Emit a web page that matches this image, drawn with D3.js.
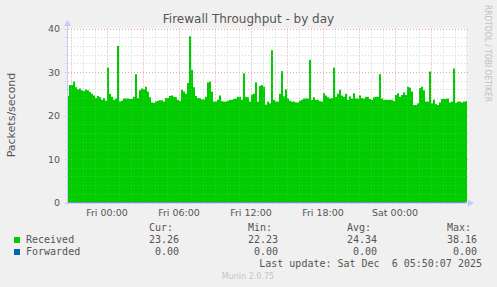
<!DOCTYPE html>
<html>
<head>
<meta charset="utf-8">
<script src="https://cdn.jsdelivr.net/npm/d3@7"></script>
<style>
  body { margin: 0; background: #f0f0f0; }
  svg { display: block; }
  text { font-family: "DejaVu Sans", sans-serif; fill: #555; }
  .mono { font-family: "DejaVu Sans Mono", monospace; white-space: pre; }
</style>
</head>
<body>
<div id="chart"></div>
<script>
// series: one value every 10 minutes, starting Thu 20:40 UTC
var startTime = new Date(Date.UTC(2025, 11, 4, 20, 40));
var stepMinutes = 10;

var received = [
    24.5, 27.0, 27.0, 27.8, 26.5, 26.0, 26.2, 25.8, 25.6, 26.0,
    25.8, 25.4, 25.0, 24.6, 24.0, 24.5, 24.2, 23.6, 24.0, 23.4,
    31.0, 25.0, 24.3, 23.6, 23.9, 36.0, 23.2, 23.4, 23.9, 23.9,
    23.9, 23.8, 23.8, 24.3, 29.5, 24.0, 25.8, 26.2, 26.0, 26.6,
    25.5, 24.2, 23.0, 22.9, 23.2, 23.4, 23.5, 23.5, 23.2, 24.0,
    24.0, 24.5, 24.6, 24.3, 24.2, 23.6, 23.3, 25.9, 25.5, 25.0,
    27.5, 38.2, 30.5, 26.5, 24.5, 24.0, 24.0, 23.7, 23.7, 24.3,
    27.6, 27.8, 25.5, 23.2, 23.2, 23.6, 24.6, 23.3, 23.2, 23.2,
    23.4, 23.6, 23.6, 23.8, 23.9, 24.3, 24.3, 23.6, 29.7, 24.3,
    24.2, 23.2, 24.8, 25.0, 27.6, 23.2, 26.8, 27.0, 26.6, 22.5,
    23.2, 22.8, 35.0, 23.6, 23.2, 23.2, 25.0, 30.2, 24.4, 26.0,
    23.9, 23.4, 23.2, 23.2, 23.0, 23.0, 23.4, 23.6, 23.9, 23.9,
    23.9, 32.8, 23.6, 24.2, 23.6, 23.6, 23.3, 23.2, 25.1, 24.6,
    24.2, 23.9, 24.0, 31.0, 24.3, 25.0, 25.9, 24.6, 24.3, 25.0,
    23.6, 24.4, 23.9, 25.1, 23.9, 23.9, 24.6, 24.0, 23.9, 24.3,
    24.3, 23.8, 23.6, 24.2, 24.3, 24.3, 29.5, 23.9, 23.6, 23.6,
    23.6, 23.6, 23.6, 23.3, 24.7, 25.1, 24.3, 24.7, 25.3, 24.7,
    26.6, 26.4, 25.5, 22.4, 22.4, 22.8, 26.3, 26.6, 25.8, 23.2,
    23.2, 30.1, 22.8, 23.6, 22.6, 22.4, 23.0, 23.8, 23.8, 23.8,
    23.9, 23.0, 23.2, 30.8, 22.9, 23.2, 23.2, 23.0, 23.2, 23.26
];
var forwarded = received.map(function() { return 0; });

var seriesNames = ["Received", "Forwarded"];
var seriesColors = ["#00cc00", "#0066b3"];
var statHeaders = ["Cur:", "Min:", "Avg:", "Max:"];
var receivedStats = ["23.26", "22.23", "24.34", "38.16"];
var forwardedStats = ["0.00", "0.00", "0.00", "0.00"];

var yTicks = [0, 10, 20, 30, 40];

var width = 497, height = 287;
var plotLeft = 67, plotRight = 467, plotTop = 28.5, plotBottom = 202.5;

var svg = d3.select("#chart").append("svg")
    .attr("width", width)
    .attr("height", height);

svg.append("rect")
    .attr("width", width)
    .attr("height", height)
    .attr("fill", "#f0f0f0");

var endTime = d3.utcMinute.offset(startTime, stepMinutes * received.length);

var x = d3.scaleUtc()
    .domain([startTime, endTime])
    .range([plotLeft, plotRight]);

var y = d3.scaleLinear()
    .domain([0, 40])
    .range([plotBottom, plotTop]);

function timeAt(i) { return d3.utcMinute.offset(startTime, stepMinutes * i); }

// plot background
svg.append("rect")
    .attr("x", plotLeft)
    .attr("y", plotTop)
    .attr("width", plotRight - plotLeft - 1)
    .attr("height", plotBottom - plotTop)
    .attr("fill", "#ffffff");

var minorY = d3.range(0, 41, 2).filter(function(d) { return d % 10 != 0; });
var minorX = d3.utcHour.every(1).range(startTime, endTime).filter(function(d) { return d.getUTCHours() % 3 != 0; });
var majorX = d3.utcHour.every(3).range(startTime, endTime);

function drawGrid(g) {
    g.selectAll(".minor-y").data(minorY).enter().append("line")
        .attr("x1", plotLeft - 2).attr("x2", plotRight + 2)
        .attr("y1", function(d) { return Math.round(y(d)) + 0.5; })
        .attr("y2", function(d) { return Math.round(y(d)) + 0.5; })
        .attr("stroke", "#d4d4d4").attr("stroke-dasharray", "1,2");
    g.selectAll(".minor-x").data(minorX).enter().append("line")
        .attr("x1", function(d) { return Math.round(x(d)) + 0.5; })
        .attr("x2", function(d) { return Math.round(x(d)) + 0.5; })
        .attr("y1", plotTop).attr("y2", plotBottom + 2)
        .attr("stroke", "#d4d4d4").attr("stroke-dasharray", "1,2");
    g.selectAll(".major-y").data(yTicks).enter().append("line")
        .attr("x1", plotLeft - 2).attr("x2", plotRight + 2)
        .attr("y1", function(d) { return Math.round(y(d)) + 0.5; })
        .attr("y2", function(d) { return Math.round(y(d)) + 0.5; })
        .attr("stroke", "#e8a8a8").attr("stroke-dasharray", "1,2");
    g.selectAll(".major-x").data(majorX).enter().append("line")
        .attr("x1", function(d) { return Math.round(x(d)) + 0.5; })
        .attr("x2", function(d) { return Math.round(x(d)) + 0.5; })
        .attr("y1", plotTop).attr("y2", plotBottom + 3)
        .attr("stroke", "#e8a8a8").attr("stroke-dasharray", "1,2");
}

drawGrid(svg.append("g"));

// received as columns
svg.append("g").selectAll("rect")
    .data(received)
    .enter().append("rect")
    .attr("x", function(d, i) { return x(timeAt(i)); })
    .attr("width", function(d, i) { return x(timeAt(i + 1)) - x(timeAt(i)); })
    .attr("y", function(d) { return y(d); })
    .attr("height", function(d) { return plotBottom - y(d); })
    .attr("fill", seriesColors[0]);

// forwarded line (all zero)
svg.append("path")
    .datum(forwarded)
    .attr("d", d3.line()
        .x(function(d, i) { return x(timeAt(i)); })
        .y(function(d) { return y(d); }))
    .attr("fill", "none")
    .attr("stroke", seriesColors[1])
    .attr("stroke-width", 1);

// faint grid over the data
drawGrid(svg.append("g").attr("opacity", 0.25));

// axes
var axisColor = "#c8c8ff";
svg.append("line")
    .attr("x1", plotLeft + 0.5).attr("x2", plotLeft + 0.5)
    .attr("y1", plotBottom + 2).attr("y2", 24)
    .attr("stroke", axisColor);
svg.append("path")
    .attr("d", "M" + (plotLeft - 3) + ",26L" + (plotLeft + 0.5) + ",20L" + (plotLeft + 4) + ",26Z")
    .attr("fill", axisColor);
svg.append("line")
    .attr("x1", plotLeft - 2).attr("x2", plotRight + 2)
    .attr("y1", plotBottom + 0.5).attr("y2", plotBottom + 0.5)
    .attr("stroke", axisColor);
svg.append("path")
    .attr("d", "M" + (plotRight + 1) + "," + (plotBottom - 3) + "L" + (plotRight + 7) + "," + (plotBottom + 0.5) + "L" + (plotRight + 1) + "," + (plotBottom + 4) + "Z")
    .attr("fill", axisColor);

// y tick labels
svg.append("g").selectAll("text")
    .data(yTicks)
    .enter().append("text")
    .attr("x", 60)
    .attr("y", function(d) { return y(d) + 3.5; })
    .attr("text-anchor", "end")
    .attr("font-size", "9.5px")
    .text(function(d) { return d; });

// x tick labels
var fmt = d3.utcFormat("%a %H:%M");
svg.append("g").selectAll("text")
    .data(d3.utcHour.every(6).range(startTime, endTime))
    .enter().append("text")
    .attr("x", function(d) { return x(d); })
    .attr("y", 216)
    .attr("text-anchor", "middle")
    .attr("font-size", "9.5px")
    .text(function(d) { return fmt(d); });

// title
svg.append("text")
    .attr("x", 248.5)
    .attr("y", 23)
    .attr("text-anchor", "middle")
    .attr("font-size", "12px")
    .text("Firewall Throughput - by day");

// y axis label
svg.append("text")
    .attr("transform", "translate(15,115) rotate(-90)")
    .attr("text-anchor", "middle")
    .attr("font-size", "11px")
    .text("Packets/second");

// side credit
svg.append("text")
    .attr("transform", "translate(485,5) rotate(90)")
    .attr("font-size", "8px")
    .attr("textLength", 97)
    .attr("lengthAdjust", "spacingAndGlyphs")
    .style("fill", "#c0c0c0")
    .text("RRDTOOL / TOBI OETIKER");

// legend
var valueRight = [179, 278, 377, 477];
svg.append("g").selectAll("text")
    .data(statHeaders)
    .enter().append("text")
    .attr("class", "mono")
    .attr("x", function(d, i) { return valueRight[i] - 6; })
    .attr("y", 231)
    .attr("text-anchor", "end")
    .attr("font-size", "10px")
    .text(function(d) { return d; });

var rows = [receivedStats, forwardedStats];
rows.forEach(function(stats, r) {
    var rowY = 243 + r * 12;
    svg.append("rect")
        .attr("x", 14)
        .attr("y", rowY - 6)
        .attr("width", 6)
        .attr("height", 6)
        .attr("fill", seriesColors[r]);
    svg.append("text")
        .attr("class", "mono")
        .attr("x", 26)
        .attr("y", rowY)
        .attr("font-size", "10px")
        .text(seriesNames[r]);
    svg.append("g").selectAll("text")
        .data(stats)
        .enter().append("text")
        .attr("class", "mono")
        .attr("x", function(d, i) { return valueRight[i]; })
        .attr("y", rowY)
        .attr("text-anchor", "end")
        .attr("font-size", "10px")
        .text(function(d) { return d; });
});

svg.append("text")
    .attr("class", "mono")
    .attr("x", 482)
    .attr("y", 267)
    .attr("text-anchor", "end")
    .attr("font-size", "10px")
    .text("Last update: Sat Dec  6 05:50:07 2025");

svg.append("text")
    .attr("x", 248)
    .attr("y", 279)
    .attr("text-anchor", "middle")
    .attr("font-size", "8px")
    .style("fill", "#c4c4c4")
    .text("Munin 2.0.75");
</script>
</body>
</html>
